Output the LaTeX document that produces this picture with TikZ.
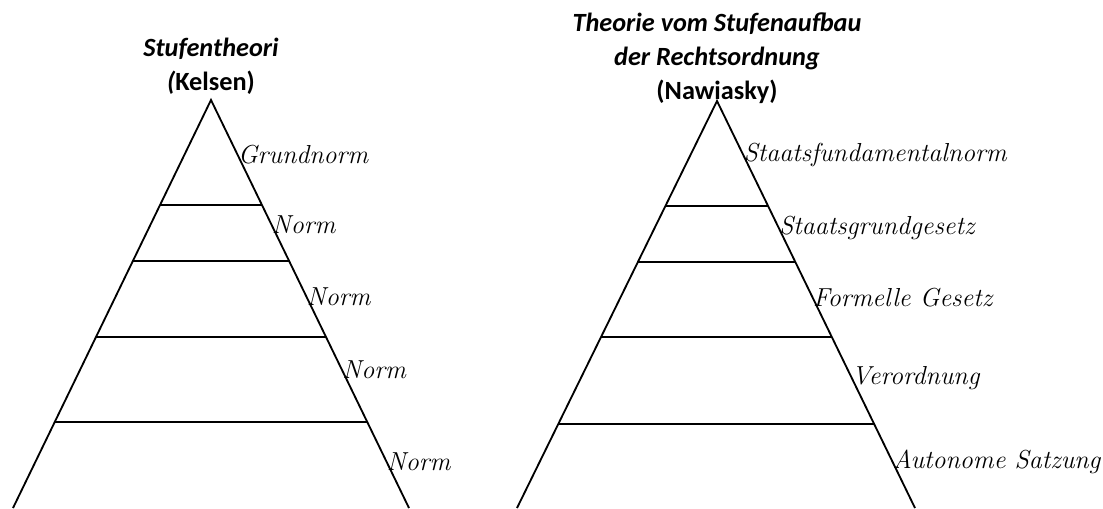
\documentclass[tikz,border=0pt]{standalone}
\usepackage{fontspec}
\usetikzlibrary{calc}
\newfontfamily\titlefont{Carlito}

\tikzset{
  stufe/.style={line width=1.3pt},
  rang/.style={anchor=west, inner sep=0pt, font=\fontsize{18.5}{21}\selectfont\itshape},
  kopf/.style={align=center, inner sep=0pt, font=\titlefont\bfseries\fontsize{18.7}{24}\selectfont},
}

\begin{document}
\begin{tikzpicture}[x=0.025cm,y=-0.025cm]
\useasboundingbox (0,0) rectangle (1103,508);
% Kelsen
\coordinate (kTop) at (211,100);
\coordinate (kL) at (13,508);
\coordinate (kR) at (409,508);
\draw[stufe] (kL) -- (kTop) -- (kR);
\foreach \y in {205,261,337,422}
  \draw[stufe] ($(kTop)!{(\y-100)/408}!(kL)$) -- ($(kTop)!{(\y-100)/408}!(kR)$);
\node[kopf] (kTitel) at (211,66) {{\itshape Stufentheori}\\{\itshape(}Kelsen)};
\node[rang] (kGrund) at ($(kTop)!0.135!(kR)$) {Grundnorm};
\node[rang] (kNorm1) at ($(kTop)!0.306!(kR)$) {Norm};
\node[rang] (kNorm2) at ($(kTop)!0.483!(kR)$) {Norm};
\node[rang] (kNorm3) at ($(kTop)!0.662!(kR)$) {Norm};
\node[rang] (kNorm4) at ($(kTop)!0.887!(kR)$) {Norm};
% Nawiasky
\coordinate (nTop) at (717,101);
\coordinate (nL) at (517,508);
\coordinate (nR) at (915,508);
\draw[stufe] (nL) -- (nTop) -- (nR);
\foreach \y in {206,262,337,424}
  \draw[stufe] ($(nTop)!{(\y-101)/407}!(nL)$) -- ($(nTop)!{(\y-101)/407}!(nR)$);
\node[kopf] (nTitel) at (717,58) {{\itshape Theorie vom Stufenaufbau}\\{\itshape der Rechtsordnung}\\(Nawiasky)};
\node[rang] (nStaat) at ($(nTop)!0.133!(nR)$) {Staatsfundamentalnorm};
\node[rang] (nGrund) at ($(nTop)!0.312!(nR)$) {Staatsgrundgesetz};
\node[rang] (nForm) at ($(nTop)!0.484!(nR)$) {Formelle Gesetz};
\node[rang] (nVerord) at ($(nTop)!0.680!(nR)$) {Verordnung};
\node[rang] (nSatz) at ($(nTop)!0.887!(nR)$) {Autonome Satzung};
\end{tikzpicture}
\end{document}
